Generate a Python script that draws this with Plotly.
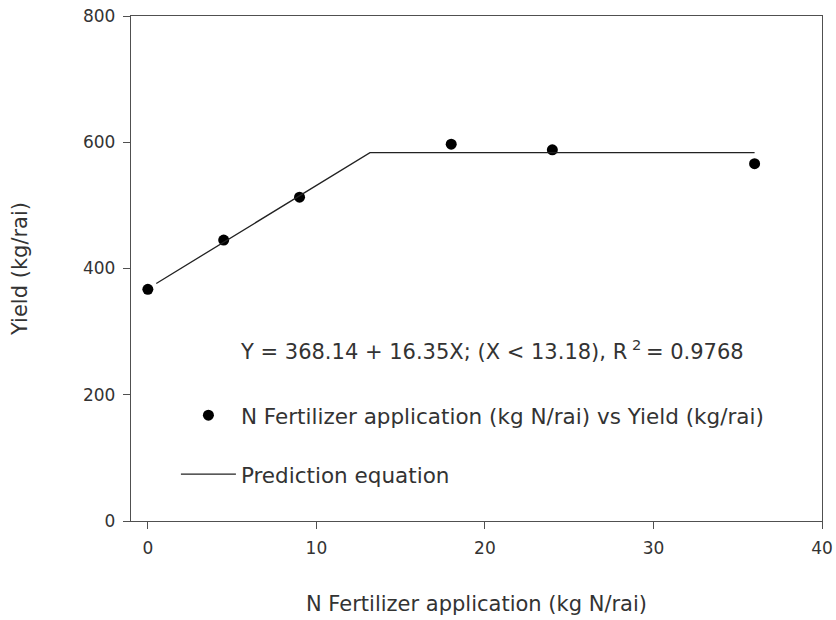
import plotly.graph_objects as go

# Observed data
n_rate = [0, 4.5, 9, 18, 24, 36]
yield_obs = [367, 445, 513, 597, 588, 566]

# Prediction equation (linear-plateau)
pred_x = [0.5, 13.18, 36]
pred_y = [376.3, 583.6, 583.6]

x_ticks = [0, 10, 20, 30, 40]
y_ticks = [0, 200, 400, 600, 800]

FONT = "DejaVu Sans, Verdana, sans-serif"
TXT = "#333333"
AX = "#505050"

fig = go.Figure()
fig.add_trace(go.Scatter(
    x=n_rate, y=yield_obs, mode="markers",
    marker=dict(color="black", size=11),
    name="N Fertilizer application (kg N/rai) vs Yield (kg/rai)",
    legendgroup="a", legendrank=1,
))
fig.add_trace(go.Scatter(
    x=pred_x, y=pred_y, mode="lines",
    line=dict(color="#222222", width=1.3),
    name="Prediction equation", legendgroup="b", legendrank=2,
))

fig.add_annotation(
    xref="paper", yref="paper", x=0.155, y=0.3386, xanchor="left", yanchor="middle",
    text="Y = 368.14 + 16.35X; (X < 13.18), R<sup> 2 </sup>= 0.9768",
    showarrow=False, font=dict(family=FONT, size=21, color=TXT),
)

fig.update_layout(
    width=836, height=620,
    margin=dict(l=131, r=14, t=16, b=99, autoexpand=False),
    paper_bgcolor="white", plot_bgcolor="white",
    font=dict(family=FONT, color=TXT, size=17),
    showlegend=True,
    legend=dict(
        x=0.065, y=0.25, xanchor="left", yanchor="top",
        font=dict(family=FONT, size=21.5, color=TXT),
        traceorder="grouped", tracegroupgap=28,
        bgcolor="rgba(0,0,0,0)", itemwidth=55,
    ),
    xaxis=dict(
        range=[-1, 40], tickvals=x_ticks, ticks="outside", ticklen=7,
        tickcolor=AX, linecolor=AX, linewidth=1.4, mirror=True, showline=True,
        showgrid=False, zeroline=False, automargin=False, ticklabelstandoff=4,
        title=dict(text="N Fertilizer application (kg N/rai)", font=dict(size=21), standoff=39),
        tickfont=dict(size=17),
    ),
    yaxis=dict(
        range=[0, 800], tickvals=y_ticks, ticks="outside", ticklen=7,
        tickcolor=AX, linecolor=AX, linewidth=1.4, mirror=True, showline=True,
        showgrid=False, zeroline=False, automargin=False, ticklabelstandoff=4,
        title=dict(text="Yield (kg/rai)", font=dict(size=21), standoff=49),
        tickfont=dict(size=17),
    ),
)

fig.write_html("out.html", config={"displayModeBar": False},
               post_script="document.body.style.margin='0px';")
